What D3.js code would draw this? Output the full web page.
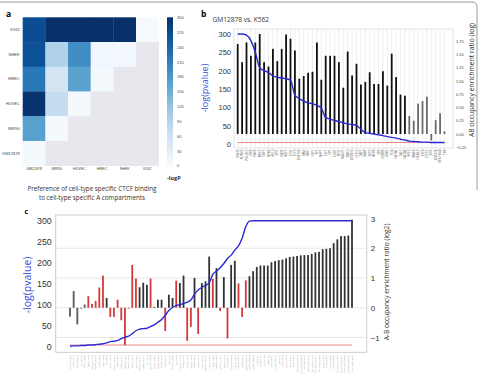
<!DOCTYPE html>
<html>
<head>
<meta charset="utf-8">
<script src="https://cdn.jsdelivr.net/npm/d3@7"></script>
<style>
body { margin: 0; background: #fff; }
svg { display: block; font-family: "Open Sans", sans-serif; }
</style>
</head>
<body>
<script>
// ---- panel a: heatmap of -logP ----
var hmRows = ["K562", "NHEK", "HMEC", "HUVEC", "IMR90", "GM12878"];
var hmCols = ["GM12878", "IMR90", "HUVEC", "HMEC", "NHEK", "K562"];
var hmValues = [
    [268, 300, 300, 300, 300, 3],
    [262, 95, 192, 10, 6, null],
    [218, 55, 165, 5, null, null],
    [296, 72, 4, null, null, null],
    [168, 5, null, null, null, null],
    [4, null, null, null, null, null]
];
var hmTicks = [0, 30, 60, 90, 120, 150, 180, 210, 240, 270, 300];

// ---- panel b: GM12878 vs. K562 ----
var bLabels = ["STAT5", "RUNX3", "POU2F2", "IRF4", "PAX5", "MEF2", "EBF1", "NFKB", "BCL3", "SPI1",
    "BATF", "IKZF1", "ETS1", "TCF3", "ZNF143", "MAX", "MYC", "USF1", "YY1", "NRF1",
    "ELF1", "SP1", "EGR1", "REST", "RAD21", "SMC3", "ZBTB33", "CHD2", "TAF1", "GABP",
    "ATF2", "NFYB", "SRF", "CEBPB", "JUND", "FOS", "GATA1", "TAL1", "GATA2", "NFE2",
    "MAFK", "HDAC2", "E2F6", "CTCFL", "SIX5", "ZNF274", "BHLHE40", "TBP"];
var bRatio = [1.69, 1.35, 1.72, 1.47, 1.72, 1.88, 1.35, 1.27, 1.60, 1.37,
    1.60, 1.87, 1.79, 1.57, 1.04, 1.09, 1.15, 1.17, 1.72, 1.02,
    1.47, 1.47, 1.47, 1.35, 0.87, 1.55, 1.10, 1.32, 0.93, 0.98,
    1.16, 0.94, 0.94, 1.18, 0.91, 1.51, 1.07, 0.74, 0.72, 0.34,
    0.25, 0.57, 0.62, 0.70, -0.12, 0.26, 0.39, 0.05];
var bPval = [300, 300, 297, 282, 250, 208, 200, 195, 186, 182,
    180, 178, 174, 133, 124, 117, 112, 110, 105, 98,
    72, 68, 64, 61, 58, 55, 53, 51, 40, 31,
    29, 27, 25, 23, 20, 18, 16, 13, 11, 8,
    7, 6, 5, 5, 4, 4, 4, 4];
var bFaded = [40, 41, 42, 43, 44, 45, 46, 47, 48];

// ---- panel c: all cell-type pairs ----
var cLabels = ["HSMM_NHLF", "A549_MCF7", "HeLa_HepG2", "H1_HSMM", "HMEC_NHEK", "NHLF_A549", "HepG2_MCF7", "HUVEC_HMEC", "IMR90_NHLF", "HeLa_A549",
    "H1_NHLF", "HSMM_A549", "HMEC_HSMM", "NHEK_NHLF", "IMR90_HSMM", "HUVEC_NHLF", "HepG2_A549", "HeLa_MCF7", "HMEC_NHLF", "HUVEC_HSMM",
    "NHEK_HSMM", "H1_A549", "HUVEC_IMR90", "HMEC_IMR90", "NHEK_IMR90", "IMR90_A549", "HepG2_H1", "HeLa_H1", "HUVEC_NHEK", "H1_MCF7",
    "HSMM_MCF7", "NHLF_MCF7", "HMEC_A549", "HUVEC_A549", "NHEK_A549", "IMR90_MCF7", "HeLa_HSMM", "HepG2_HSMM", "HMEC_MCF7", "HeLa_NHLF",
    "HepG2_NHLF", "HUVEC_MCF7", "NHEK_MCF7", "IMR90_HeLa", "IMR90_HepG2", "HUVEC_HeLa", "HMEC_HeLa", "NHEK_HeLa", "HUVEC_HepG2", "HMEC_HepG2",
    "NHEK_HepG2", "IMR90_H1", "HUVEC_H1", "HMEC_H1", "NHEK_H1", "K562_HeLa", "K562_HepG2", "K562_H1", "K562_A549", "K562_MCF7",
    "K562_HSMM", "K562_NHLF", "GM12878_HeLa", "GM12878_HepG2", "GM12878_H1", "GM12878_A549", "GM12878_MCF7", "GM12878_HSMM", "GM12878_NHLF", "K562_IMR90",
    "K562_HMEC", "K562_NHEK", "K562_HUVEC", "GM12878_IMR90", "GM12878_HMEC", "GM12878_NHEK", "GM12878_HUVEC", "GM12878_K562"];
var cRatio = [-0.30, 0.56, -0.56, -0.03, 0.11, 0.39, 0.13, 0.23, 0.68, 1.08,
    0.33, -0.31, -0.31, 0.27, -0.42, -1.26, -0.03, 1.44, 0.98, 0.69,
    0.84, 0.77, 0.98, 0.03, 0.27, 0.27, -0.78, 0.44, 0.33, 0.91,
    0.83, 1.08, -1.11, -0.64, 1.00, -0.88, 0.83, 0.89, 1.72, 0.97,
    1.33, -0.11, 1.03, -1.03, 1.44, 1.58, 0.82, -0.31, 0.92, 1.06,
    1.23, 1.37, 1.42, 1.42, 1.42, 1.53, 1.57, 1.60, 1.62, 1.66,
    1.71, 1.72, 1.74, 1.76, 1.77, 1.77, 1.81, 1.86, 1.88, 1.97,
    1.98, 2.00, 2.17, 2.30, 2.41, 2.41, 2.43, 2.96];
var cPval = [1, 2, 2, 3, 3, 4, 4, 5, 6, 7,
    9, 12, 13, 15, 19, 23, 25, 31, 38, 42,
    43, 44, 48, 52, 58, 65, 75, 86, 94, 98,
    100, 103, 106, 111, 125, 135, 141, 146, 152, 172,
    180, 188, 198, 210, 218, 230, 240, 258, 286, 299,
    300, 300, 300, 300, 300, 300, 300, 300, 300, 300,
    300, 300, 300, 300, 300, 300, 300, 300, 300, 300,
    300, 300, 300, 300, 300, 300, 300, 300];
var cGroup = ["g", "g", "g", "g", "g", "r", "r", "r", "r", "r",
    "k", "r", "r", "r", "r", "r", "r", "r", "r", "k",
    "k", "k", "r", "k", "k", "k", "r", "k", "k", "r",
    "k", "k", "r", "r", "k", "r", "k", "k", "k", "r",
    "k", "r", "k", "r", "k", "k", "r", "r", "r", "k",
    "k", "k", "k", "k", "k", "k", "k", "k", "k", "k",
    "k", "k", "k", "k", "k", "k", "k", "k", "k", "k",
    "k", "k", "k", "k", "k", "k", "k", "k"];

var W = 479, H = 374;
var blue = "#2b2bd6", red = "#e06a6a";
var groupColor = {g: "#5a5a5a", k: "#333", r: "#d23a3a"};

var svg = d3.select("body").append("svg")
    .attr("width", W)
    .attr("height", H);

svg.append("rect").attr("width", W).attr("height", H).attr("fill", "#fff");

// figure frame (top and right edge)
svg.append("path")
    .attr("d", "M0,2H472Q477,2 477,7V190")
    .attr("fill", "none")
    .attr("stroke", "#9a9a9a")
    .attr("stroke-width", 1);

// ================= panel a =================
var ga = svg.append("g");
ga.append("text").attr("x", 6).attr("y", 17)
    .attr("font-size", 8.5).attr("font-weight", "bold").text("a");

var hx = d3.scaleBand().domain(hmCols).range([22.7, 158.7]);
var hy = d3.scaleBand().domain(hmRows).range([17.3, 165.7]);
var hColor = d3.scaleSequential(d3.interpolateBlues).domain([0, 300]);

var cells = [];
hmValues.forEach(function(row, i) {
    row.forEach(function(v, j) {
        cells.push({r: hmRows[i], c: hmCols[j], v: v});
    });
});

ga.selectAll(".cell")
    .data(cells)
    .enter()
    .append("rect")
    .attr("class", "cell")
    .attr("x", d => hx(d.c))
    .attr("y", d => hy(d.r))
    .attr("width", hx.bandwidth() + 0.3)
    .attr("height", hy.bandwidth() + 0.3)
    .attr("fill", d => d.v === null ? "#e7e7ed" : hColor(d.v));

ga.append("g")
    .attr("transform", "translate(22.7,0)")
    .call(d3.axisLeft(hy).tickSize(0).tickPadding(3))
    .call(g => g.select(".domain").remove())
    .selectAll("text").attr("font-size", 4).attr("fill", "#444");

ga.append("g")
    .attr("transform", "translate(0,165.7)")
    .call(d3.axisBottom(hx).tickSize(0).tickPadding(2))
    .call(g => g.select(".domain").remove())
    .selectAll("text").attr("font-size", 3.6).attr("fill", "#444");

// colour bar
var grad = svg.append("defs").append("linearGradient")
    .attr("id", "blues").attr("x1", 0).attr("y1", 1).attr("x2", 0).attr("y2", 0);
d3.range(0, 1.01, 0.1).forEach(function(t) {
    grad.append("stop").attr("offset", t).attr("stop-color", d3.interpolateBlues(t));
});
var cbScale = d3.scaleLinear().domain([0, 300]).range([165.7, 17.3]);
ga.append("rect")
    .attr("x", 167).attr("y", 17.3).attr("width", 6).attr("height", 148.4)
    .attr("fill", "url(#blues)");
ga.append("g")
    .attr("transform", "translate(173,0)")
    .call(d3.axisRight(cbScale).tickValues(hmTicks).tickSize(0).tickPadding(4))
    .call(g => g.select(".domain").remove())
    .selectAll("text").attr("font-size", 4).attr("fill", "#444");

ga.append("text").attr("x", 167).attr("y", 180)
    .attr("font-size", 5.6).attr("font-weight", "bold").attr("fill", "#333").text("-logP");

ga.append("text").attr("x", 92).attr("y", 191)
    .attr("text-anchor", "middle").attr("font-size", 6.3).attr("fill", "#333")
    .text("Preference of cell-type specific CTCF binding");
ga.append("text").attr("x", 92).attr("y", 200)
    .attr("text-anchor", "middle").attr("font-size", 6.3).attr("fill", "#333")
    .text("to cell-type specific A compartments");

// ================= panel b =================
var gb = svg.append("g");
gb.append("text").attr("x", 201).attr("y", 17)
    .attr("font-size", 8.5).attr("font-weight", "bold").text("b");
gb.append("text").attr("x", 212.5).attr("y", 21.5)
    .attr("font-size", 6.6).attr("fill", "#333").text("GM12878 vs. K562");

var bx = d3.scalePoint().domain(d3.range(bRatio.length)).range([237.7, 444.5]);
var byL = d3.scaleLinear().domain([0, 300]).range([144, 34]);
var byR = d3.scaleLinear().domain([-0.25, 1.75]).range([147.3, 40.9]);

// grid
gb.selectAll(".vgrid")
    .data(d3.range(bRatio.length))
    .enter()
    .append("line")
    .attr("x1", d => bx(d)).attr("x2", d => bx(d))
    .attr("y1", 29).attr("y2", 148)
    .attr("stroke", "#e4e4e4").attr("stroke-width", 0.6);
gb.append("rect")
    .attr("x", 234).attr("y", 29).attr("width", 219).attr("height", 119)
    .attr("fill", "none").attr("stroke", "#d8d8d8").attr("stroke-width", 0.7);

gb.selectAll(".bbar")
    .data(bRatio)
    .enter()
    .append("rect")
    .attr("class", "bbar")
    .attr("x", (d, i) => bx(i) - 0.9)
    .attr("y", d => byR(Math.max(d, 0)))
    .attr("width", 1.8)
    .attr("height", d => Math.abs(byR(d) - byR(0)))
    .attr("fill", (d, i) => bFaded.indexOf(i + 1) >= 0 ? "#6b6b6b" : "#111");

gb.append("line")
    .attr("x1", bx(0)).attr("x2", bx(bRatio.length - 1))
    .attr("y1", byL(4)).attr("y2", byL(4))
    .attr("stroke", red).attr("stroke-width", 0.8);

gb.append("path")
    .datum(bPval)
    .attr("fill", "none")
    .attr("stroke", blue)
    .attr("stroke-width", 1.4)
    .attr("d", d3.line().x((d, i) => bx(i)).y(d => byL(d)).curve(d3.curveMonotoneX));

gb.append("g")
    .attr("transform", "translate(234,0)")
    .call(d3.axisLeft(byL).tickValues([0, 50, 100, 150, 200, 250, 300]).tickSize(0).tickPadding(3))
    .call(g => g.select(".domain").remove())
    .selectAll("text").attr("font-size", 7.5).attr("fill", "#333");

gb.append("g")
    .attr("transform", "translate(453,0)")
    .call(d3.axisRight(byR).tickValues([-0.25, 0, 0.25, 0.5, 0.75, 1, 1.25, 1.5, 1.75])
        .tickFormat(d3.format(".2f")).tickSize(0).tickPadding(3))
    .call(g => g.select(".domain").remove())
    .selectAll("text").attr("font-size", 4).attr("fill", "#444");

gb.append("text")
    .attr("transform", "translate(208,88) rotate(-90)")
    .attr("text-anchor", "middle").attr("font-size", 9).attr("fill", "#3a4fdc")
    .text("-log(pvalue)");
gb.append("text")
    .attr("transform", "translate(474,80) rotate(-90)")
    .attr("text-anchor", "middle").attr("font-size", 6.8).attr("fill", "#333")
    .text("AB occupancy enrichment ratio (log)");

gb.selectAll(".blab")
    .data(bLabels)
    .enter()
    .append("text")
    .attr("class", "blab")
    .attr("transform", (d, i) => "translate(" + (bx(i) + 1) + ",149.5) rotate(-90)")
    .attr("text-anchor", "end")
    .attr("font-size", 3)
    .attr("fill", "#555")
    .text(d => d);

// ================= panel c =================
var gc = svg.append("g");
gc.append("text").attr("x", 24.5).attr("y", 213.5)
    .attr("font-size", 7).attr("font-weight", "bold").text("c");

var cx = d3.scalePoint().domain(d3.range(cRatio.length)).range([70, 352]);
var cyL = d3.scaleLinear().domain([0, 300]).range([346.7, 220.7]);
var cyR = d3.scaleLinear().domain([-1, 3]).range([337.5, 218.5]);

gc.selectAll(".hgrid")
    .data([-1, 0, 1, 2])
    .enter()
    .append("line")
    .attr("x1", 55.7).attr("x2", 366.7)
    .attr("y1", d => cyR(d)).attr("y2", d => cyR(d))
    .attr("stroke", "#dedede").attr("stroke-width", 0.7);
gc.append("rect")
    .attr("x", 55.7).attr("y", 215).attr("width", 311).attr("height", 137.3)
    .attr("fill", "none").attr("stroke", "#c8c8c8").attr("stroke-width", 0.9);

gc.selectAll(".cbar")
    .data(cRatio)
    .enter()
    .append("rect")
    .attr("class", "cbar")
    .attr("x", (d, i) => cx(i) - 0.9)
    .attr("y", d => cyR(Math.max(d, 0)))
    .attr("width", 1.8)
    .attr("height", d => Math.abs(cyR(d) - cyR(0)))
    .attr("fill", (d, i) => groupColor[cGroup[i]]);

gc.append("line")
    .attr("x1", cx(0)).attr("x2", cx(cRatio.length - 1))
    .attr("y1", cyL(4)).attr("y2", cyL(4))
    .attr("stroke", red).attr("stroke-width", 0.8);

gc.append("path")
    .datum(cPval)
    .attr("fill", "none")
    .attr("stroke", blue)
    .attr("stroke-width", 1.4)
    .attr("d", d3.line().x((d, i) => cx(i)).y(d => cyL(d)).curve(d3.curveMonotoneX));

gc.append("g")
    .attr("transform", "translate(55.7,0)")
    .call(d3.axisLeft(cyL).tickValues([0, 50, 100, 150, 200, 250, 300]).tickSize(0).tickPadding(4))
    .call(g => g.select(".domain").remove())
    .selectAll("text").attr("font-size", 8.8).attr("fill", "#333");

gc.append("g")
    .attr("transform", "translate(366.7,0)")
    .call(d3.axisRight(cyR).tickValues([-1, 0, 1, 2, 3]).tickFormat(d3.format("d")).tickSize(0).tickPadding(4))
    .call(g => g.select(".domain").remove())
    .selectAll("text").attr("font-size", 8).attr("fill", "#333");

gc.append("text")
    .attr("transform", "translate(31,285) rotate(-90)")
    .attr("text-anchor", "middle").attr("font-size", 10.5).attr("fill", "#3a4fdc")
    .text("-log(pvalue)");
gc.append("text")
    .attr("transform", "translate(389,282) rotate(-90)")
    .attr("text-anchor", "middle").attr("font-size", 6.6).attr("fill", "#333")
    .text("A-B occupancy enrichment ratio (log2)");

gc.selectAll(".clab")
    .data(cLabels)
    .enter()
    .append("text")
    .attr("class", "clab")
    .attr("transform", (d, i) => "translate(" + (cx(i) + 0.8) + ",355) rotate(-90)")
    .attr("text-anchor", "end")
    .attr("font-size", 2.3)
    .attr("fill", "#888")
    .text(d => d);
</script>
</body>
</html>
